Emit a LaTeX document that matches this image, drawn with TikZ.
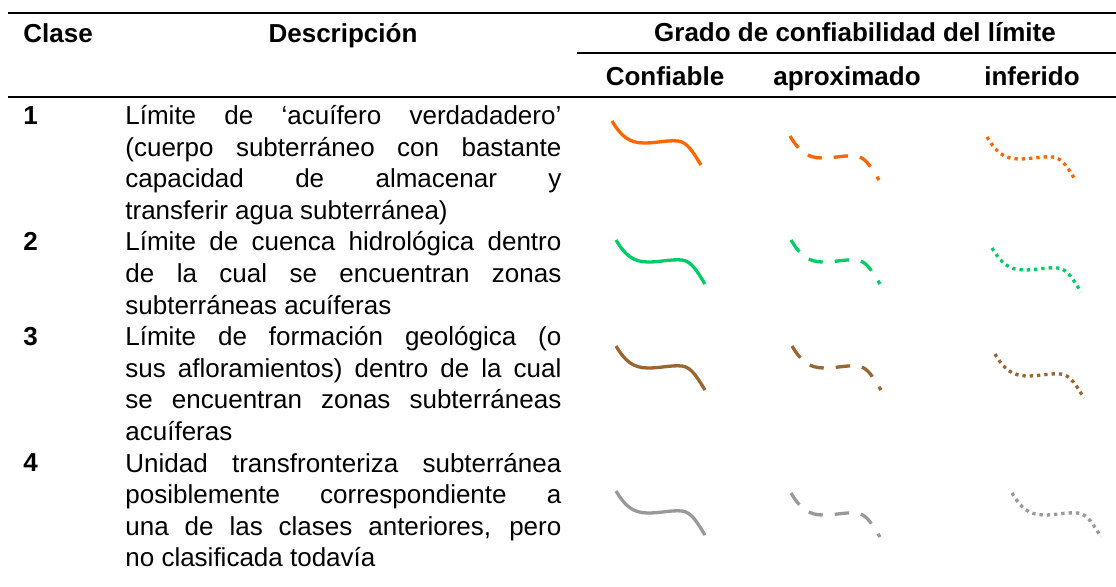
\documentclass[tikz,border=0pt]{standalone}
\usepackage{fontspec}
\setmainfont{Liberation Sans}

\definecolor{limorange}{RGB}{255,102,0}
\definecolor{limgreen}{RGB}{0,204,102}
\definecolor{limbrown}{RGB}{153,102,51}
\definecolor{limgray}{RGB}{153,153,153}

\tikzset{
  limite/.pic={
    \draw (0,0) .. controls (9,15) and (17,22) .. (32,22)
                .. controls (45,22) and (55,19) .. (66,20)
                .. controls (76,21) and (82,33) .. (89,44);
  }
}

\begin{document}
\begin{tikzpicture}[x=0.5pt, y=-0.5pt,
    every node/.style={inner sep=0pt, font=\fontsize{13}{15.8}\selectfont},
    head/.style={font=\fontsize{13}{15.8}\selectfont\bfseries},
    desc/.style={anchor=north west, text width=218pt, align=justify},
    rule/.style={line width=1.3pt},
    limsolid/.style={line width=1.65pt},
    limdash/.style={line width=1.65pt, dash pattern=on 7.2pt off 6pt},
    limdot/.style={line width=1.65pt, dash pattern=on 1.65pt off 2pt}]
        \useasboundingbox (0,0) rectangle (1116,586);

        % Table rules
        \draw[rule] (8,13) -- (1116,13);
        \draw[line width=1pt] (577,53) -- (1116,53);
        \draw[rule] (8,97) -- (1116,97);

        % Header
        \node[head, anchor=base west] (clase) at (23,42) {Clase};
        \node[head, anchor=base] (descr) at (343,42) {Descripción};
        \node[head, anchor=base] (grado) at (855,41) {Grado de confiabilidad del límite};
        \node[head, anchor=base] (conf) at (665,85) {Confiable};
        \node[head, anchor=base] (aprox) at (847,85) {aproximado};
        \node[head, anchor=base] (infer) at (1032,85) {inferido};

        % Class numbers
        \foreach \n/\y in {1/124, 2/250.4, 3/345.2, 4/471.6}
          \node[head, anchor=base west] (num\n) at (23,\y) {\n};

        % Descriptions
        \node[desc] (desc1) at (125,102) {\strut Límite de ‘acuífero verdadadero’\linebreak
          (cuerpo subterráneo con bastante\linebreak capacidad de almacenar y\linebreak
          transferir agua subterránea)};
        \node[desc] (desc2) at (125,228.3) {\strut Límite de cuenca hidrológica dentro\linebreak
          de la cual se encuentran zonas\linebreak subterráneas acuíferas};
        \node[desc] (desc3) at (125,323.1) {\strut Límite de formación geológica (o\linebreak
          sus afloramientos) dentro de la cual\linebreak se encuentran zonas subterráneas\linebreak
          acuíferas};
        \node[desc] (desc4) at (125,449.5) {\strut Unidad transfronteriza subterránea\linebreak
          posiblemente correspondiente a\linebreak una de las clases anteriores, pero\linebreak
          no clasificada todavía};

        % Boundary line samples: confiable, aproximado, inferido
        \foreach \col/\xa/\ya/\xb/\yb/\xc/\yc in {
            limorange/612/121/790/136/987/137,
            limgreen/616/240/791/240/992/248,
            limbrown/616/346/792/346/995/354,
            limgray/616/491/791/493/1012/493} {
          \pic[color=\col, limsolid] at (\xa,\ya) {limite};
          \pic[color=\col, limdash] at (\xb,\yb) {limite};
          \pic[color=\col, limdot] at (\xc,\yc) {limite};
        }
\end{tikzpicture}
\end{document}
